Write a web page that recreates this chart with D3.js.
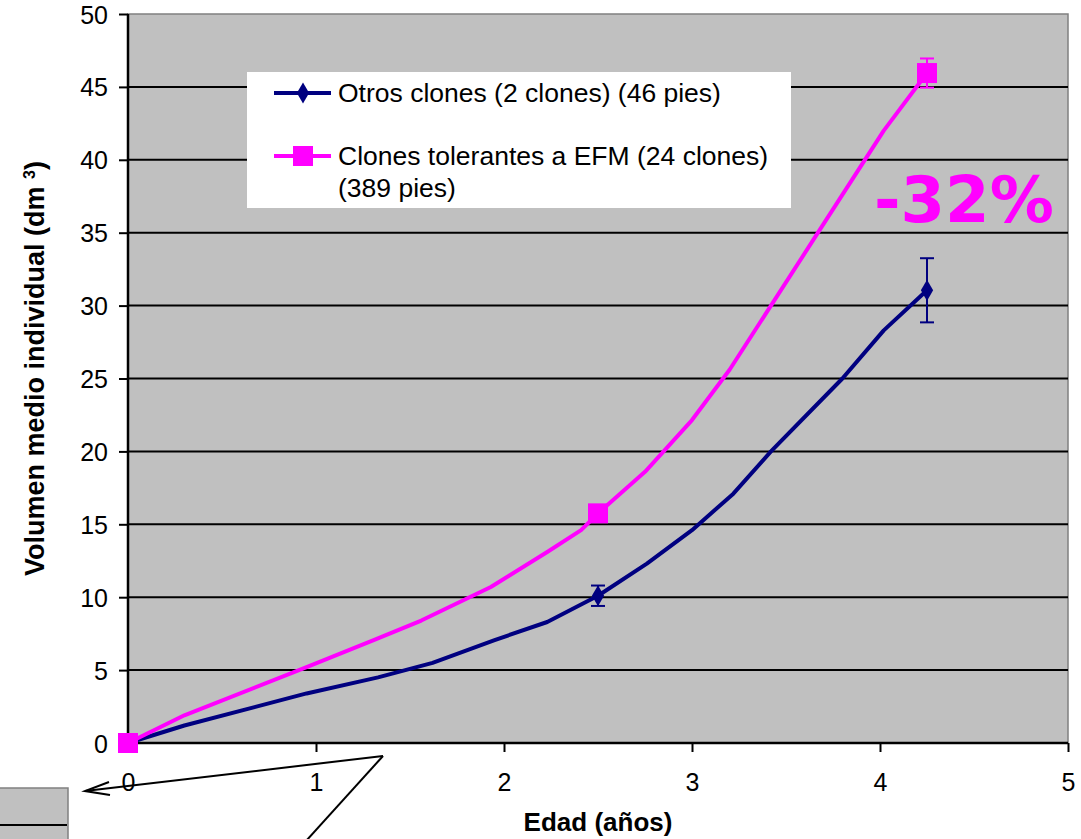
<!DOCTYPE html>
<html>
<head>
<meta charset="utf-8">
<script src="https://cdn.jsdelivr.net/npm/d3@7"></script>
<style>
  html, body { margin: 0; padding: 0; background: #ffffff; }
  svg { display: block; font-family: "Liberation Sans", Arial, sans-serif; }
</style>
</head>
<body>
<svg id="chart" width="1081" height="839"></svg>
<script>
// ---- data ----
const xTicks = [0, 1, 2, 3, 4, 5];
const yTicks = [0, 5, 10, 15, 20, 25, 30, 35, 40, 45, 50];

const otrosX = [0, 0.3, 0.95, 1.33, 1.62, 1.95, 2.23, 2.5, 2.76, 3.0, 3.22, 3.42, 3.8, 4.02, 4.25];
const otrosY = [0, 1.2, 3.4, 4.5, 5.5, 7.06, 8.3, 10.1, 12.3, 14.6, 17.1, 20.0, 25.0, 28.3, 31.05];
const otrosMarkX = [2.5, 4.25];
const otrosMarkY = [10.1, 31.05];
const otrosErr = [0.7, 2.2];

const tolerX = [0, 0.3, 0.95, 1.31, 1.56, 1.93, 2.23, 2.41, 2.5, 2.75, 3.0, 3.2, 3.42, 3.67, 4.02, 4.25];
const tolerY = [0, 1.9, 5.2, 7.07, 8.4, 10.7, 13.1, 14.6, 15.75, 18.6, 22.15, 25.6, 30.0, 35.0, 42.0, 45.95];
const tolerMarkX = [0, 2.5, 4.25];
const tolerMarkY = [0, 15.75, 45.95];
const tolerErr = [0, 0, 1.0];

const legendLabels = ["Otros clones (2 clones) (46 pies)", "Clones tolerantes a EFM (24 clones)", "(389 pies)"];
const annotation = "-32%";
const xTitle = "Edad (años)";
const yTitle = "Volumen medio individual (dm ";

// ---- layout ----
const W = 1081, H = 839;
const m = { left: 128, right: 13, top: 14, bottom: 96 };
const BLUE = "#000080", PINK = "#FF00FF";

const svg = d3.select("#chart");
const x = d3.scaleLinear().domain([0, 5]).range([m.left, W - m.right]);
const y = d3.scaleLinear().domain([0, 50]).range([H - m.bottom, m.top]);

// plot area
svg.append("rect")
  .attr("x", x(0)).attr("y", y(50))
  .attr("width", x(5) - x(0)).attr("height", y(0) - y(50))
  .attr("fill", "#C0C0C0").attr("stroke", "#808080").attr("stroke-width", 1.5);

// gridlines
svg.append("g").selectAll("line")
  .data(yTicks.filter(v => v > 0 && v < 50))
  .join("line")
  .attr("x1", x(0)).attr("x2", x(5))
  .attr("y1", d => y(d)).attr("y2", d => y(d))
  .attr("stroke", "#000").attr("stroke-width", 2);

// axes
const xAxis = svg.append("g")
  .attr("transform", `translate(0,${y(0)})`)
  .call(d3.axisBottom(x).tickValues(xTicks).tickFormat(d3.format("d")).tickSize(9).tickPadding(21));
const yAxis = svg.append("g")
  .attr("transform", `translate(${x(0)},0)`)
  .call(d3.axisLeft(y).tickValues(yTicks).tickFormat(d3.format("d")).tickSize(9).tickPadding(11));
[xAxis, yAxis].forEach(a => {
  a.attr("font-family", null).attr("font-size", null);
  a.select(".domain").attr("stroke", "#000").attr("stroke-width", 2.5);
  a.selectAll(".tick line").attr("stroke", "#000").attr("stroke-width", 2);
  a.selectAll(".tick text").style("font-size", "25px").attr("fill", "#000")
    .style("font-family", "'Liberation Sans', Arial, sans-serif");
});
xAxis.select(".domain").attr("d", `M${x(0)},0H${x(5)}`);
yAxis.select(".domain").attr("d", `M0,${y(0)}V${y(50)}`);
yAxis.selectAll(".tick text").attr("dy", "0.36em");

// axis titles
svg.append("text")
  .attr("x", (x(0) + x(5)) / 2).attr("y", 831)
  .attr("text-anchor", "middle").style("font-weight", "bold").style("font-size", "26px")
  .text(xTitle);
const yt = svg.append("text")
  .attr("transform", `translate(44,${(y(0) + y(50)) / 2 - 10}) rotate(-90)`)
  .attr("text-anchor", "middle").style("font-weight", "bold").style("font-size", "27px");
yt.append("tspan").text(yTitle);
yt.append("tspan").attr("dy", -9).style("font-size", "16px").text("3");
yt.append("tspan").attr("dy", 9).text(")");

// lines
const line = d3.line().x(d => x(d[0])).y(d => y(d[1]));
svg.append("path").datum(otrosX.map((v, i) => [v, otrosY[i]]))
  .attr("d", line).attr("fill", "none").attr("stroke", BLUE).attr("stroke-width", 4).attr("stroke-linejoin", "round");
svg.append("path").datum(tolerX.map((v, i) => [v, tolerY[i]]))
  .attr("d", line).attr("fill", "none").attr("stroke", PINK).attr("stroke-width", 4).attr("stroke-linejoin", "round");

// error bars
function errBars(xs, ys, es, color) {
  const g = svg.append("g").attr("stroke", color).attr("stroke-width", 2);
  xs.forEach((xv, i) => {
    if (!es[i]) return;
    const cx = x(xv), t = y(ys[i] + es[i]), b = y(ys[i] - es[i]);
    g.append("line").attr("x1", cx).attr("x2", cx).attr("y1", t).attr("y2", b);
    g.append("line").attr("x1", cx - 7).attr("x2", cx + 7).attr("y1", t).attr("y2", t);
    g.append("line").attr("x1", cx - 7).attr("x2", cx + 7).attr("y1", b).attr("y2", b);
  });
}

// markers
const diamond = d3.symbol().type(d3.symbolDiamond).size(130);
svg.append("g").selectAll("path")
  .data(otrosMarkX.map((v, i) => [v, otrosMarkY[i]]))
  .join("path")
  .attr("d", diamond)
  .attr("transform", d => `translate(${x(d[0])},${y(d[1])})`)
  .attr("fill", BLUE);
errBars(otrosMarkX, otrosMarkY, otrosErr, BLUE);

svg.append("g").selectAll("rect")
  .data(tolerMarkX.map((v, i) => [v, tolerMarkY[i]]))
  .join("rect")
  .attr("x", d => x(d[0]) - 10).attr("y", d => y(d[1]) - 10)
  .attr("width", 20).attr("height", 20)
  .attr("fill", PINK);
errBars(tolerMarkX, tolerMarkY, tolerErr, PINK);

// legend
const lg = svg.append("g");
lg.append("rect").attr("x", 247).attr("y", 72).attr("width", 544).attr("height", 136).attr("fill", "#fff");
const legRows = [
  { yy: 93, color: BLUE, type: "diamond" },
  { yy: 156, color: PINK, type: "square" }
];
legRows.forEach(r => {
  lg.append("line").attr("x1", 274).attr("x2", 331).attr("y1", r.yy).attr("y2", r.yy)
    .attr("stroke", r.color).attr("stroke-width", 4);
  if (r.type === "diamond") {
    lg.append("path").attr("d", diamond).attr("transform", `translate(303,${r.yy})`).attr("fill", r.color);
  } else {
    lg.append("rect").attr("x", 293).attr("y", r.yy - 10).attr("width", 20).attr("height", 20).attr("fill", r.color);
  }
});
[[102, 0], [165, 1], [197, 2]].forEach(([yy, i]) => {
  lg.append("text").attr("x", 338).attr("y", yy).style("font-size", "26.5px").text(legendLabels[i]);
});

// annotation
svg.append("text")
  .attr("x", 874).attr("y", 222)
  .style("font-family", "'DejaVu Sans', Verdana, sans-serif")
  .style("font-weight", "bold").style("font-size", "64px").attr("fill", PINK)
  .text(annotation);

// stray drawing objects at the bottom-left
const deco = svg.append("g");
deco.append("rect").attr("x", -2).attr("y", 788).attr("width", 70).attr("height", 60)
  .attr("fill", "#C0C0C0").attr("stroke", "#808080").attr("stroke-width", 1.5);
deco.append("line").attr("x1", 0).attr("x2", 67).attr("y1", 825).attr("y2", 825)
  .attr("stroke", "#000").attr("stroke-width", 2);
deco.append("line").attr("x1", 383).attr("y1", 756).attr("x2", 85).attr("y2", 791)
  .attr("stroke", "#000").attr("stroke-width", 2);
deco.append("path").attr("d", "M109,782 L85,791 L110,795")
  .attr("fill", "none").attr("stroke", "#000").attr("stroke-width", 2);
deco.append("line").attr("x1", 383).attr("y1", 756).attr("x2", 306).attr("y2", 841)
  .attr("stroke", "#000").attr("stroke-width", 2);
</script>
</body>
</html>
